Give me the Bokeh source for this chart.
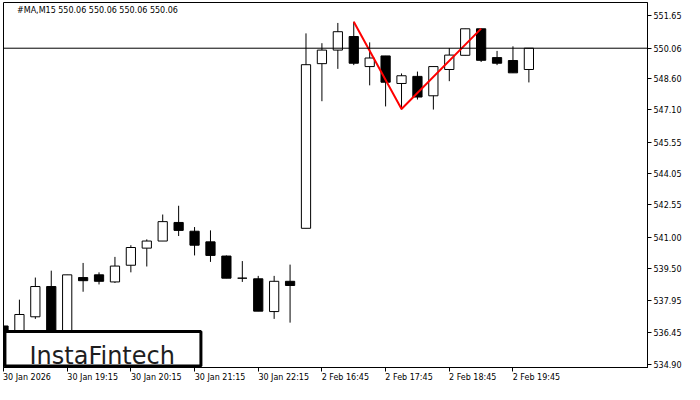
from bokeh.plotting import figure
from bokeh.models import Range1d, FixedTicker, Span, Label, ColumnDataSource, LinearAxis
from bokeh.core.properties import value
from bokeh.embed import file_html
from bokeh.resources import INLINE

# ---------------- data ----------------
times = ["30 Jan 18:15", "30 Jan 18:30", "30 Jan 18:45", "30 Jan 19:00", "30 Jan 19:15",
         "30 Jan 19:30", "30 Jan 19:45", "30 Jan 20:00", "30 Jan 20:15", "30 Jan 20:30",
         "30 Jan 20:45", "30 Jan 21:00", "30 Jan 21:15", "30 Jan 21:30", "30 Jan 21:45",
         "30 Jan 22:00", "30 Jan 22:15", "30 Jan 22:30", "30 Jan 22:45", "2 Feb 16:30",
         "2 Feb 16:45", "2 Feb 17:00", "2 Feb 17:15", "2 Feb 17:30", "2 Feb 17:45",
         "2 Feb 18:00", "2 Feb 18:15", "2 Feb 18:30", "2 Feb 18:45", "2 Feb 19:00",
         "2 Feb 19:15", "2 Feb 19:30", "2 Feb 19:45", "2 Feb 20:00"]
bar_index = [-1, 0, 1, 2, 3, 4, 5, 6, 7, 8, 9, 10, 11, 12, 13, 14, 15, 16,
             17, 18, 19, 20, 21, 22, 23, 24, 25, 26, 27, 28, 29, 30, 31, 32]
opens = [536.75, 536.10, 537.19, 538.64, 535.90, 539.07, 539.20, 538.86, 539.66, 540.48,
         540.82, 541.71, 541.29, 540.78, 540.10, 539.04, 539.01, 537.44, 538.89, 541.43,
         549.32, 549.97, 550.62, 549.18, 549.69, 548.37, 548.71, 547.78, 549.04, 549.72,
         550.99, 549.61, 549.47, 549.04]
highs = [536.89, 538.01, 539.07, 539.40, 539.20, 539.77, 539.32, 540.06, 540.62, 540.90,
         542.09, 542.51, 541.49, 541.33, 540.13, 539.86, 539.15, 539.15, 539.69, 550.77,
         550.30, 551.27, 551.33, 550.34, 549.69, 548.85, 548.94, 549.18, 550.07, 550.99,
         550.99, 549.93, 550.15, 550.06]
lows = [535.50, 536.00, 537.09, 535.70, 535.80, 538.39, 538.74, 538.81, 539.32, 539.60,
        540.82, 541.06, 540.13, 539.82, 539.04, 538.86, 537.46, 537.09, 536.91, 541.43,
        547.52, 549.07, 549.25, 548.28, 547.27, 547.12, 547.60, 547.12, 548.48, 549.72,
        549.40, 549.25, 548.88, 548.42]
closes = [535.90, 537.30, 538.64, 535.87, 539.20, 538.92, 538.89, 539.62, 540.51, 540.82,
          541.75, 541.33, 540.62, 540.13, 539.04, 539.04, 537.46, 538.89, 538.69, 549.27,
          549.97, 550.85, 549.34, 549.59, 548.43, 548.74, 547.72, 549.18, 549.73, 550.99,
          549.48, 549.34, 548.88, 550.06]

pattern_x = [21, 24, 29]
pattern_y = [551.33, 547.15, 551.00]

last_price = 550.06
header_text = "#MA,M15  550.06 550.06 550.06 550.06"

x_tick_pos = [-1, 3, 7, 11, 15, 19, 23, 27, 31]
x_tick_labels = ["30 Jan 2026", "30 Jan 19:15", "30 Jan 20:15", "30 Jan 21:15", "30 Jan 22:15",
                 "2 Feb 16:45", "2 Feb 17:45", "2 Feb 18:45", "2 Feb 19:45"]
y_tick_pos = [534.90, 536.45, 537.95, 539.50, 541.00, 542.55, 544.05, 545.55, 547.10, 548.60,
              550.06, 551.65]
y_tick_labels = ["534.90", "536.45", "537.95", "539.50", "541.00", "542.55", "544.05", "545.55",
                 "547.10", "548.60", "550.06", "551.65"]

# ---------------- figure ----------------
X0, X1 = -1, 39.45
Y0, Y1 = 534.76, 552.25
FONT = "DejaVu Sans"
PX_PER_BAR = 16.0

p = figure(width=684, height=384, output_backend="svg", toolbar_location=None,
           x_range=Range1d(X0, X1), y_range=Range1d(Y0, Y1), y_axis_location="right",
           x_axis_location=None,
           min_border_left=3, min_border_top=2, min_border_right=0, min_border_bottom=0)
p.xgrid.visible = False
p.ygrid.visible = False
p.background_fill_color = "white"
p.border_fill_color = "white"
p.outline_line_color = "black"
p.outline_line_width = 1
p.outline_line_alpha = 1


def style_axis(ax):
    ax.axis_line_color = "black"
    ax.major_tick_line_color = "black"
    ax.minor_tick_line_color = None
    ax.major_tick_in = 0
    ax.major_tick_out = 4
    ax.major_label_text_font = FONT
    ax.major_label_text_font_size = "8px"
    ax.major_label_text_color = "black"


# y axis (right)
style_axis(p.yaxis[0])
p.yaxis.ticker = FixedTicker(ticks=y_tick_pos)
p.yaxis.major_label_overrides = {t: l for t, l in zip(y_tick_pos, y_tick_labels)}
p.yaxis.major_label_standoff = 2

# x axis: tick marks only
xt = LinearAxis(ticker=FixedTicker(ticks=x_tick_pos),
                major_label_overrides={t: "" for t in x_tick_pos})
style_axis(xt)
xt.major_label_standoff = 0
xt.major_label_text_font_size = "0px"
p.add_layout(xt, "below")

# x axis: labels, left-aligned at their tick (MetaTrader style)
label_w_px = [len(s) * 4.1 for s in x_tick_labels]
label_centres = [t + (1 + w / 2) / PX_PER_BAR for t, w in zip(x_tick_pos, label_w_px)]
xl = LinearAxis(ticker=FixedTicker(ticks=label_centres),
                major_label_overrides={c: l for c, l in zip(label_centres, x_tick_labels)})
style_axis(xl)
xl.axis_line_color = None
xl.major_tick_line_color = None
xl.major_tick_out = 0
xl.major_label_standoff = 1
p.add_layout(xl, "below")

# ---------------- candles ----------------
up = dict(x=[], top=[], bottom=[])
dn = dict(x=[], top=[], bottom=[])
for i, o, c in zip(bar_index, opens, closes):
    d = up if c >= o else dn
    d["x"].append(i)
    d["top"].append(max(o, c))
    d["bottom"].append(min(o, c))

src_all = ColumnDataSource(dict(x=bar_index, hi=highs, lo=lows))
p.segment(x0="x", y0="lo", x1="x", y1="hi", source=src_all, line_color="black", line_width=1)
p.vbar(x="x", width=0.58, top="top", bottom="bottom", source=ColumnDataSource(up),
       fill_color="white", line_color="black", line_width=1)
p.vbar(x="x", width=0.58, top="top", bottom="bottom", source=ColumnDataSource(dn),
       fill_color="black", line_color="black", line_width=1)

# double-top pattern line
p.line(pattern_x, pattern_y, line_color="#ff0000", line_width=2)

# last price line
p.add_layout(Span(location=last_price, dimension="width", line_color="black", line_width=1))

# logo box
p.quad(left=[X0 + 0.09], right=[11.4], top=[536.48], bottom=[Y0 + 0.07],
       fill_color="white", line_color="black", line_width=3)
p.text(x=[5.2], y=[535.33], text=["InstaFintech"], text_align="center",
       text_baseline="alphabetic", text_font=value(FONT), text_font_size="24px",
       text_color="#1e1e1e")

# header text
p.add_layout(Label(x=-0.15, y=552.1, text=header_text, text_font=FONT,
                   text_font_size="8px", text_color="black", text_baseline="top",
                   text_align="left"))

open("out.html", "w").write(file_html(p, INLINE))
